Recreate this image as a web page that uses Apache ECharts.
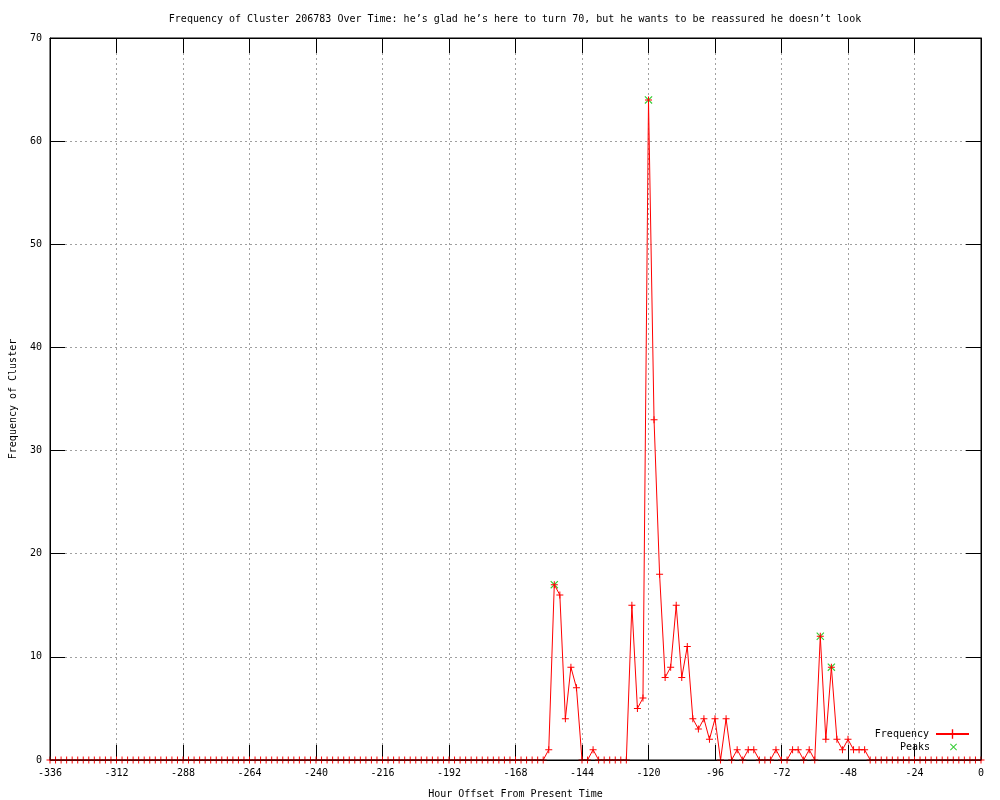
<!DOCTYPE html>
<html>
<head>
<meta charset="utf-8">
<script src="https://cdn.jsdelivr.net/npm/echarts@6/dist/echarts.min.js"></script>
<style>
  html, body { margin: 0; padding: 0; background: #fff; }
  #myChart { width: 1000px; height: 800px; }
</style>
</head>
<body>
<div id="myChart"></div>
<script>
// hourly offsets, every 2 hours from -336 to 0
const hourStart = -336;
const hourStep = 2;

// frequency per 2-hour bin, -336 .. 0
const freqValues = [
  0,0,0,0,0,0,0,0,0,0,
  0,0,0,0,0,0,0,0,0,0,
  0,0,0,0,0,0,0,0,0,0,
  0,0,0,0,0,0,0,0,0,0,
  0,0,0,0,0,0,0,0,0,0,
  0,0,0,0,0,0,0,0,0,0,
  0,0,0,0,0,0,0,0,0,0,
  0,0,0,0,0,0,0,0,0,0,
  0,0,0,0,0,0,0,0,0,0,
  // -156 .. -42
  1,17,16,4,9,7,0,0,1,0,
  0,0,0,0,0,15,5,6,64,33,
  18,8,9,15,8,11,4,3,4,2,
  4,0,4,0,1,0,1,1,0,0,
  0,1,0,0,1,1,0,1,0,12,
  2,9,2,1,2,1,1,1,
  // -40 .. 0
  0,0,0,0,0,0,0,0,0,0,
  0,0,0,0,0,0,0,0,0,0,0
];

const peakHours = [-154, -120, -58, -54];
const peakValues = [17, 64, 12, 9];

const xTicks = { min: -336, max: 0, interval: 24 };
const yTicks = { min: 0, max: 70, interval: 10 };

const titleText = 'Frequency of Cluster 206783 Over Time: he\u2019s glad he\u2019s here to turn 70, but he wants to be reassured he doesn\u2019t look';

const freqData = freqValues.map((v, i) => [hourStart + i * hourStep, v]);
const peakData = peakHours.map((h, i) => [h, peakValues[i]]);

const plusPath = 'path://M3,0H4V3H7V4H4V7H3V4H0V3H3Z';
const crossPath = 'path://M0,0.7L0.7,0L3.5,2.8L6.3,0L7,0.7L4.2,3.5L7,6.3L6.3,7L3.5,4.2L0.7,7L0,6.3L2.8,3.5Z';

const font = '"DejaVu Sans Mono", monospace';
const txt = { fontFamily: font, fontSize: 10, color: '#000' };

let myChart = echarts.init(document.getElementById('myChart'));

function axisBase(extra) {
  return Object.assign({
    type: 'value',
    axisLine: { show: true, onZero: false, lineStyle: { color: '#000', width: 1 } },
    axisTick: { show: true, inside: true, length: 15, lineStyle: { color: '#000' } },
    splitLine: { show: false },
  }, extra);
}

myChart.setOption({
  animation: false,
  backgroundColor: '#fff',
  title: {
    text: titleText,
    left: 510,
    top: 9,
    textAlign: 'center',
    textStyle: Object.assign({ fontWeight: 'normal' }, txt)
  },
  grid: {
    left: 50, right: 19, top: 38, bottom: 40,
    containLabel: false,
    outerBoundsMode: 'none',
    show: true, z: 10,
    backgroundColor: 'transparent',
    borderColor: '#000', borderWidth: 1
  },
  legend: [
    {
      data: ['Frequency'],
      right: 30, top: 729, padding: 0,
      orient: 'vertical', align: 'right',
      itemWidth: 33, itemHeight: 12, itemGap: 0,
      textStyle: Object.assign({ padding: [0, 2, 0, 0] }, txt)
    },
    {
      data: [{ name: 'Peaks', icon: crossPath }],
      right: 43, top: 742, padding: 0,
      orient: 'vertical', align: 'right',
      itemWidth: 7, itemHeight: 7, itemGap: 0,
      itemStyle: { color: '#00c000' },
      textStyle: Object.assign({ padding: [0, 15, 0, 0] }, txt)
    }
  ],
  xAxis: [
    axisBase({
      min: xTicks.min, max: xTicks.max, interval: xTicks.interval,
      position: 'bottom',
      name: 'Hour Offset From Present Time',
      nameLocation: 'middle', nameGap: 29,
      nameTextStyle: txt,
      axisLabel: Object.assign({ margin: 8 }, txt),
      splitLine: { show: true, lineStyle: { color: '#a0a0a0', type: [2, 3], width: 1 } }
    }),
    axisBase({
      min: xTicks.min, max: xTicks.max, interval: xTicks.interval,
      position: 'top',
      axisLabel: { show: false }
    })
  ],
  yAxis: [
    axisBase({
      min: yTicks.min, max: yTicks.max, interval: yTicks.interval,
      position: 'left',
      name: 'Frequency of Cluster',
      nameLocation: 'middle', nameGap: 32, nameRotate: 90,
      nameTextStyle: txt,
      axisLabel: Object.assign({ margin: 8 }, txt),
      splitLine: { show: true, lineStyle: { color: '#a0a0a0', type: [2, 3], width: 1 } }
    }),
    axisBase({
      min: yTicks.min, max: yTicks.max, interval: yTicks.interval,
      position: 'right',
      axisLabel: { show: false }
    })
  ],
  series: [
    {
      name: 'Peaks',
      type: 'scatter',
      data: peakData,
      symbol: crossPath,
      symbolSize: 8,
      itemStyle: { color: '#00c000' },
      z: 2
    },
    {
      name: 'Frequency',
      type: 'line',
      data: freqData,
      showAllSymbol: true,
      symbol: plusPath,
      symbolSize: 7,
      lineStyle: { color: '#ff0000', width: 1 },
      itemStyle: { color: '#ff0000' },
      z: 3
    }
  ]
});
</script>
</body>
</html>
